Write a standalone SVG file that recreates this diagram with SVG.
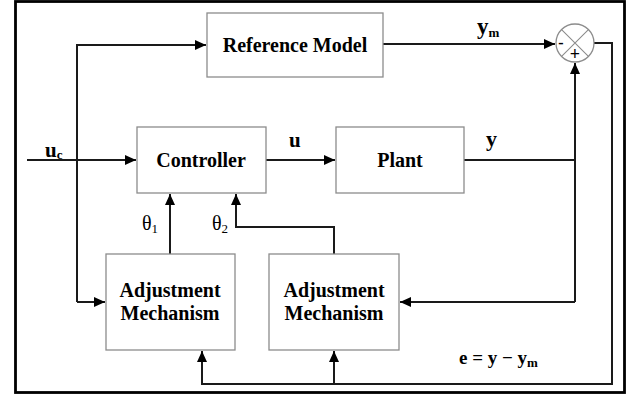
<svg xmlns="http://www.w3.org/2000/svg" width="632" height="398" viewBox="0 0 632 398">
<defs>
<marker id="arr" markerUnits="userSpaceOnUse" markerWidth="12" markerHeight="10" refX="11" refY="5" orient="auto">
<path d="M0,0 L11,5 L0,10 z" fill="#000"/>
</marker>
<style>
.box{fill:#fff;stroke:#8c8c8c;stroke-width:1.3}
.ln{fill:none;stroke:#1a1a1a;stroke-width:2}
.t{font-family:"Liberation Serif","Times New Roman",serif;font-weight:bold;font-size:20px;fill:#000;text-anchor:middle}
.lb{font-family:"Liberation Serif","Times New Roman",serif;font-weight:bold;font-size:21px;fill:#000}
.th{font-family:"Liberation Serif","Times New Roman",serif;font-size:20px;fill:#000}
.sub{font-size:13px}
</style>
</defs>
<rect x="0" y="0" width="632" height="398" fill="#fff"/>
<rect x="15.5" y="1.5" width="609" height="391" fill="none" stroke="#000" stroke-width="2.8"/>
<g id="connectors">
<path class="ln" d="M27,160 H136" marker-end="url(#arr)"/>
<path class="ln" d="M77,302 V45 H206" marker-end="url(#arr)"/>
<path class="ln" d="M77,302 H105" marker-end="url(#arr)"/>
<path class="ln" d="M383,44 H555" marker-end="url(#arr)"/>
<path class="ln" d="M266,160 H335" marker-end="url(#arr)"/>
<path class="ln" d="M464,160 H575"/>
<path class="ln" d="M575,302 V63" marker-end="url(#arr)"/>
<path class="ln" d="M575,302 H400" marker-end="url(#arr)"/>
<path class="ln" d="M594,43 H612 V384 H202 V351" marker-end="url(#arr)"/>
<path class="ln" d="M334,384 V351" marker-end="url(#arr)"/>
<path class="ln" d="M170,254 V194" marker-end="url(#arr)"/>
<path class="ln" d="M334,254 V227 H236 V194" marker-end="url(#arr)"/>
</g>
<g id="reference-model">
<rect class="box" x="207" y="13" width="176" height="64"/>
<text class="t" x="295" y="52">Reference Model</text>
</g>
<g id="controller">
<rect class="box" x="137" y="127" width="129" height="66"/>
<text class="t" x="201" y="167">Controller</text>
</g>
<g id="plant">
<rect class="box" x="336" y="127" width="128" height="66"/>
<text class="t" x="400" y="167">Plant</text>
</g>
<g id="adjustment-1">
<rect class="box" x="106" y="254" width="129" height="96"/>
<text class="t" x="170" y="297">Adjustment</text>
<text class="t" x="170" y="320">Mechanism</text>
</g>
<g id="adjustment-2">
<rect class="box" x="269" y="254" width="130" height="96"/>
<text class="t" x="334" y="297">Adjustment</text>
<text class="t" x="334" y="320">Mechanism</text>
</g>
<g id="sum">
<circle cx="575" cy="43" r="19" fill="#fff" stroke="#8c8c8c" stroke-width="1.3"/>
<path d="M561.6,29.6 L588.4,56.4 M588.4,29.6 L561.6,56.4" stroke="#8c8c8c" stroke-width="1.1"/>
<text class="lb" x="561" y="48" text-anchor="middle" style="font-size:16px">-</text>
<text class="lb" x="575" y="60" text-anchor="middle" style="font-size:18px">+</text>
</g>
<g id="labels">
<text class="lb" x="45" y="157">u<tspan class="sub" dy="2">c</tspan></text>
<text class="lb" x="289" y="147">u</text>
<text class="lb" x="477" y="34" style="font-size:23px">y<tspan class="sub" dy="3">m</tspan></text>
<text class="lb" x="486" y="146" style="font-size:22px">y</text>
<text class="th" x="142" y="230">θ<tspan class="sub" dy="3">1</tspan></text>
<text class="th" x="212" y="230">θ<tspan class="sub" dy="3">2</tspan></text>
<text class="lb" x="459" y="364" style="font-size:19px">e = y − y<tspan class="sub" dy="3">m</tspan></text>
</g>
</svg>
